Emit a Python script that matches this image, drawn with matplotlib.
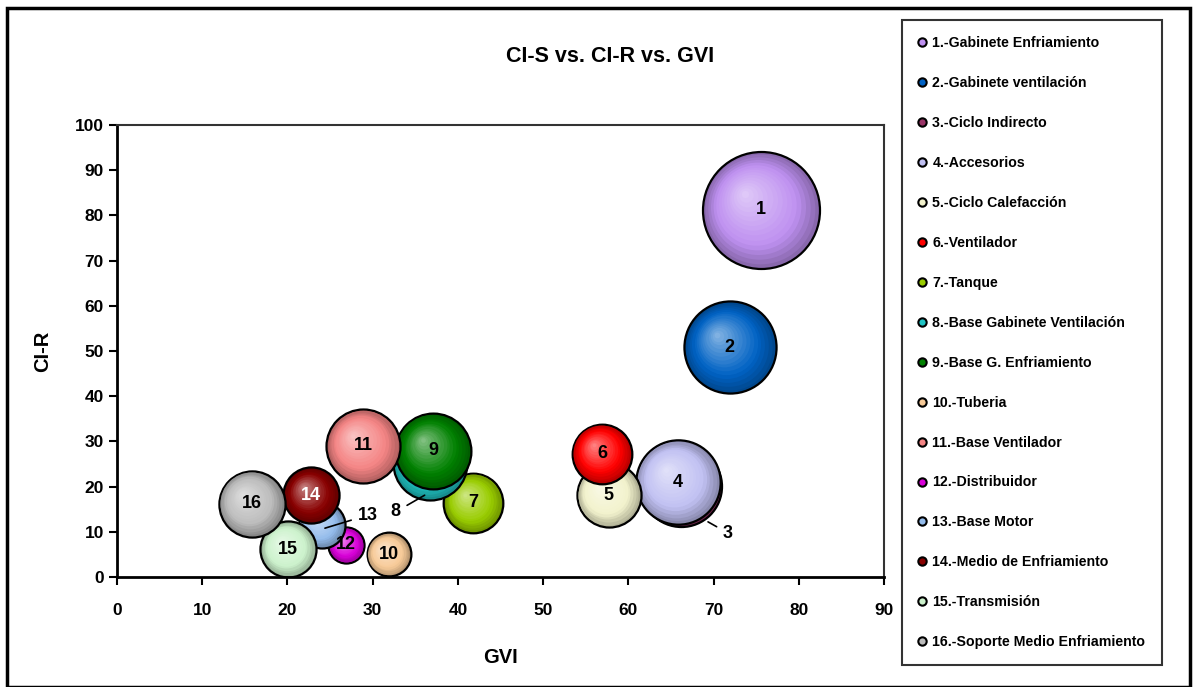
import numpy as np
import matplotlib
matplotlib.use("Agg")
import matplotlib.pyplot as plt
from matplotlib import font_manager
from matplotlib.transforms import offset_copy
from matplotlib.lines import Line2D
from matplotlib.patches import Rectangle
from matplotlib.colors import to_rgb

# font: narrow arial look if we have it
names = {f.name for f in font_manager.fontManager.ttflist}
fam = 'Liberation Sans Narrow' if 'Liberation Sans Narrow' in names else 'Liberation Sans'
plt.rcParams['font.family'] = [fam, 'DejaVu Sans']
plt.rcParams['font.weight'] = 'bold'

# data
labels = ['1.-Gabinete Enfriamiento', '2.-Gabinete ventilación', '3.-Ciclo Indirecto',
          '4.-Accesorios', '5.-Ciclo Calefacción', '6.-Ventilador', '7.-Tanque',
          '8.-Base Gabinete Ventilación', '9.-Base G. Enfriamiento', '10.-Tuberia',
          '11.-Base Ventilador', '12.-Distribuidor', '13.-Base Motor',
          '14.-Medio de Enfriamiento', '15.-Transmisión', '16.-Soporte Medio Enfriamiento']
gvi  = [75.6, 71.9, 66.2, 65.8, 57.7, 56.9, 41.8, 36.7, 37.1, 31.9, 28.9, 26.9, 24.0, 22.8, 20.1, 15.8]
ci_r = [81.2, 50.8, 20.2, 21.0, 18.1, 27.3, 16.4, 25.2, 27.9, 5.0, 29.0, 7.1, 11.5, 18.1, 6.1, 16.2]
ci_s = [100, 62, 48, 52, 30, 26, 26, 40, 42, 14, 40, 9.5, 15.5, 23, 23, 32]
colors = ['#BE90F0', '#0062C4', '#993366', '#C0C0F2', '#F2F2CC', '#FF0000', '#99CC00',
          '#20C4C4', '#008000', '#F7CA98', '#F48484', '#D800D8', '#94BCEC', '#880000',
          '#CCF2CC', '#BCBCBC']
num_colors = ['black'] * 13 + ['white', 'black', 'black']

# labels drawn away from the bubble, with a leader line: idx -> (text pos, line end)
outside = {2: ((71.7, 9.7), (69.35, 12.2)),
           7: ((32.7, 14.4), (36.1, 18.1)),
           12: ((29.45, 13.7), (24.4, 10.8))}

W, H = 1193, 687
fig = plt.figure(figsize=(W / 100, H / 100), dpi=100)
ax = fig.add_axes([117 / W, 1 - 577 / H, (884 - 117) / W, (577 - 125) / H])

size_scale = (117 * 0.72) ** 2 / 100
N = 16
for i in range(len(gvi)):
    s = ci_s[i] * size_scale
    r_pt = np.sqrt(s) / 2
    base = np.array(to_rgb(colors[i]))
    rim = base * 0.72
    light = base + (1 - base) * 0.5
    # outline + dark rim
    ax.scatter([gvi[i]], [ci_r[i]], s=s, color=rim, edgecolor='black', linewidth=1.6)
    # 3d look: smaller lighter circles shifted to the upper left
    for k in range(1, N):
        f = 1 - k / N
        t = k / (N - 1)
        off = (1 - f) * 0.42 * r_pt
        tr = offset_copy(ax.transData, fig=fig, x=-off * 0.7, y=off * 0.7, units='points')
        if t < 0.3:
            c = rim + (base - rim) * (t / 0.3)
        else:
            c = base + (light - base) * ((t - 0.3) / 0.7)
        ax.scatter([gvi[i]], [ci_r[i]], s=s * f * f, color=c, linewidth=0, transform=tr)
    if i in outside:
        (tx, ty), (px, py) = outside[i]
        ax.annotate(str(i + 1), xy=(px, py), xytext=(tx, ty), fontsize=13, fontweight='bold',
                    ha='center', va='center', zorder=10,
                    arrowprops=dict(arrowstyle='-', color='black', lw=1.2, shrinkA=3, shrinkB=0))
    else:
        ax.text(gvi[i], ci_r[i], str(i + 1), fontsize=13, fontweight='bold', color=num_colors[i],
                ha='center', va='center', zorder=10)

ax.set_xlim(0, 90)
ax.set_ylim(0, 100)
ax.set_xticks(np.arange(0, 91, 10))
ax.set_yticks(np.arange(0, 101, 10))
ax.tick_params(direction='out', length=5.5, width=1.5, labelsize=12.5, pad=4)
ax.tick_params(axis='x', pad=13)
for lab in ax.get_xticklabels() + ax.get_yticklabels():
    lab.set_fontweight('bold')
for side in ['left', 'bottom']:
    ax.spines[side].set_linewidth(2)
for side in ['top', 'right']:
    ax.spines[side].set_linewidth(1.5)
    ax.spines[side].set_color('#333333')

ax.set_xlabel('GVI', fontsize=14.5, fontweight='bold')
ax.set_ylabel('CI-R', fontsize=14.5, fontweight='bold')
ax.xaxis.set_label_coords(0.5, -0.157)
ax.yaxis.set_label_coords(-0.085, 0.5)

fig.text(610 / W, 1 - 57 / H, 'CI-S vs. CI-R vs. GVI', fontsize=15.5, fontweight='bold',
         ha='center', va='center')

# legend
handles = [Line2D([], [], linestyle='none', marker='o', markersize=6,
                  markerfacecolor=c, markeredgecolor='black', markeredgewidth=1.5)
           for c in colors]
leg = fig.legend(handles, labels, loc='upper left', bbox_to_anchor=(902 / W, 1 - 20 / H),
                 fontsize=10.2, frameon=True, fancybox=False, shadow=False,
                 handlelength=0.5, handletextpad=0.5, labelspacing=1.83,
                 borderpad=1.15, borderaxespad=0)
leg.get_frame().set_edgecolor('black')
leg.get_frame().set_linewidth(1.5)
for t in leg.get_texts():
    t.set_fontweight('bold')

# chart border
fig.patches.append(Rectangle((7 / W, 0), (1190 - 7) / W, 1 - 8 / H, transform=fig.transFigure,
                             fill=False, edgecolor='black', linewidth=2.5))

fig.savefig('out.png', dpi=100)
